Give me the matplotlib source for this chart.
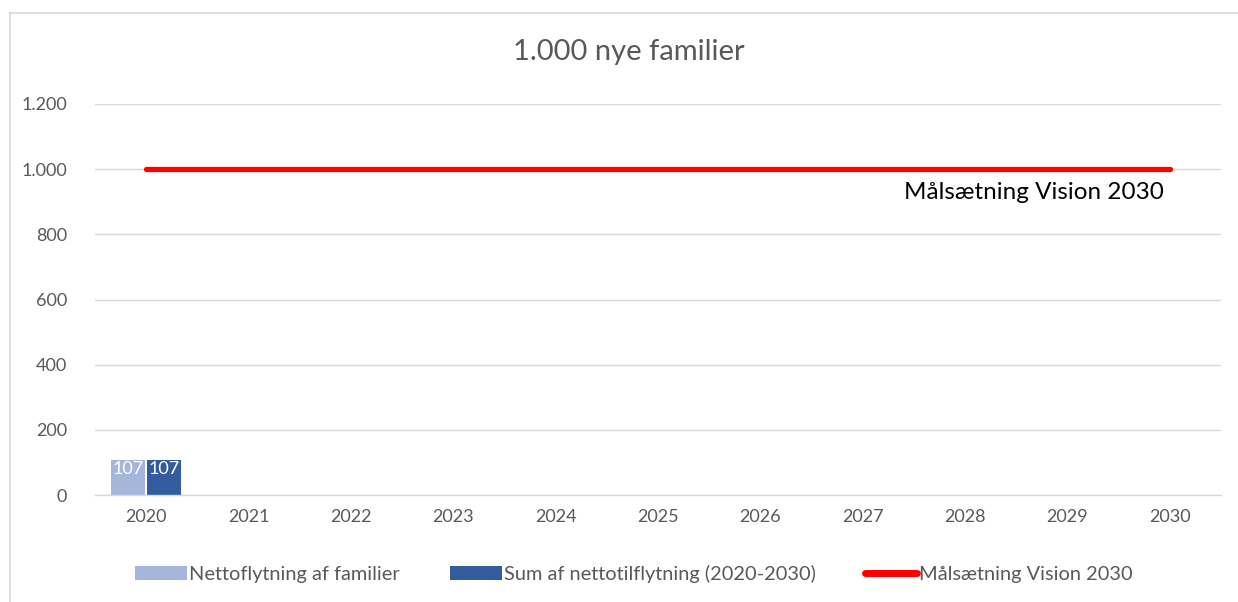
import matplotlib
matplotlib.use("Agg")
import matplotlib.pyplot as plt
import numpy as np
from matplotlib.lines import Line2D

plt.rcParams['font.family'] = ['Lato', 'DejaVu Sans']

years = ['2020', '2021', '2022', '2023', '2024', '2025', '2026', '2027', '2028', '2029', '2030']
netto = [107, None, None, None, None, None, None, None, None, None, None]
sum_netto = [107, None, None, None, None, None, None, None, None, None, None]
target = [1000] * 11
yticks = [0, 200, 400, 600, 800, 1000, 1200]
ytick_labels = ['0', '200', '400', '600', '800', '1.000', '1.200']

c_light = '#A6B5DB'
c_dark = '#335C9F'
c_red = '#FF0000'
c_text = '#595959'
c_grid = '#D9D9D9'

W, H = 1238, 602
fig = plt.figure(figsize=(W / 100, H / 100), dpi=100)
ax = fig.add_axes([95 / W, 1 - 495 / H, (1221 - 95) / W, (495 - 104) / H])

x = np.arange(len(years))
bw = 0.335
gap = 0.01
nv = np.array([np.nan if v is None else v for v in netto], dtype=float)
sv = np.array([np.nan if v is None else v for v in sum_netto], dtype=float)
b1 = ax.bar(x - bw / 2 - gap, nv, bw, color=c_light, label='Nettoflytning af familier', zorder=2)
b2 = ax.bar(x + bw / 2 + gap, sv, bw, color=c_dark, label='Sum af nettotilflytning (2020-2030)', zorder=2)
for bars, vals in ((b1, nv), (b2, sv)):
    for r, v in zip(bars, vals):
        if not np.isnan(v):
            ax.text(r.get_x() + r.get_width() / 2, v - 2, f'{int(v)}', ha='center', va='top',
                    color='white', fontsize=13, zorder=3)

ax.plot(x, target, color=c_red, lw=3.8, solid_capstyle='round', zorder=3)
ax.text(x[-1] - 0.06, target[-1] - 40, 'Målsætning Vision 2030', ha='right', va='top',
        fontsize=17.5, color='black', zorder=4)

ax.set_xlim(-0.5, len(years) - 0.5)
ax.set_ylim(0, 1200)
ax.set_yticks(yticks)
ax.set_yticklabels(ytick_labels)
ax.set_xticks(x)
ax.set_xticklabels(years)
ax.tick_params(axis='both', length=0, colors=c_text, labelsize=13)
ax.tick_params(axis='y', pad=20)
ax.tick_params(axis='x', pad=10)
ax.grid(axis='y', color=c_grid, lw=1, zorder=0)
for s in ['top', 'right', 'left']:
    ax.spines[s].set_visible(False)
ax.spines['bottom'].set_color(c_grid)
ax.spines['bottom'].set_linewidth(1)

fig.text(629 / W, 1 - 52 / H, '1.000 nye familier', ha='center', va='center', fontsize=21, color=c_text)

red_handle = Line2D([], [], color=c_red, lw=5, solid_capstyle='round', label='Målsætning Vision 2030')
leg = fig.legend(handles=[b1, b2, red_handle], loc='center', bbox_to_anchor=(634 / W, 1 - 574 / H),
                 ncol=3, frameon=False, fontsize=14.4, handlelength=2.6, handletextpad=0.1,
                 columnspacing=2.5, labelcolor=c_text)

fig.add_artist(Line2D([9.5 / W, 9.5 / W], [0, 1 - 12.5 / H], transform=fig.transFigure, color=c_grid, lw=1.2))
fig.add_artist(Line2D([9.5 / W, 1], [1 - 12.5 / H, 1 - 12.5 / H], transform=fig.transFigure, color=c_grid, lw=1.2))

fig.savefig('out.png', dpi=100)
